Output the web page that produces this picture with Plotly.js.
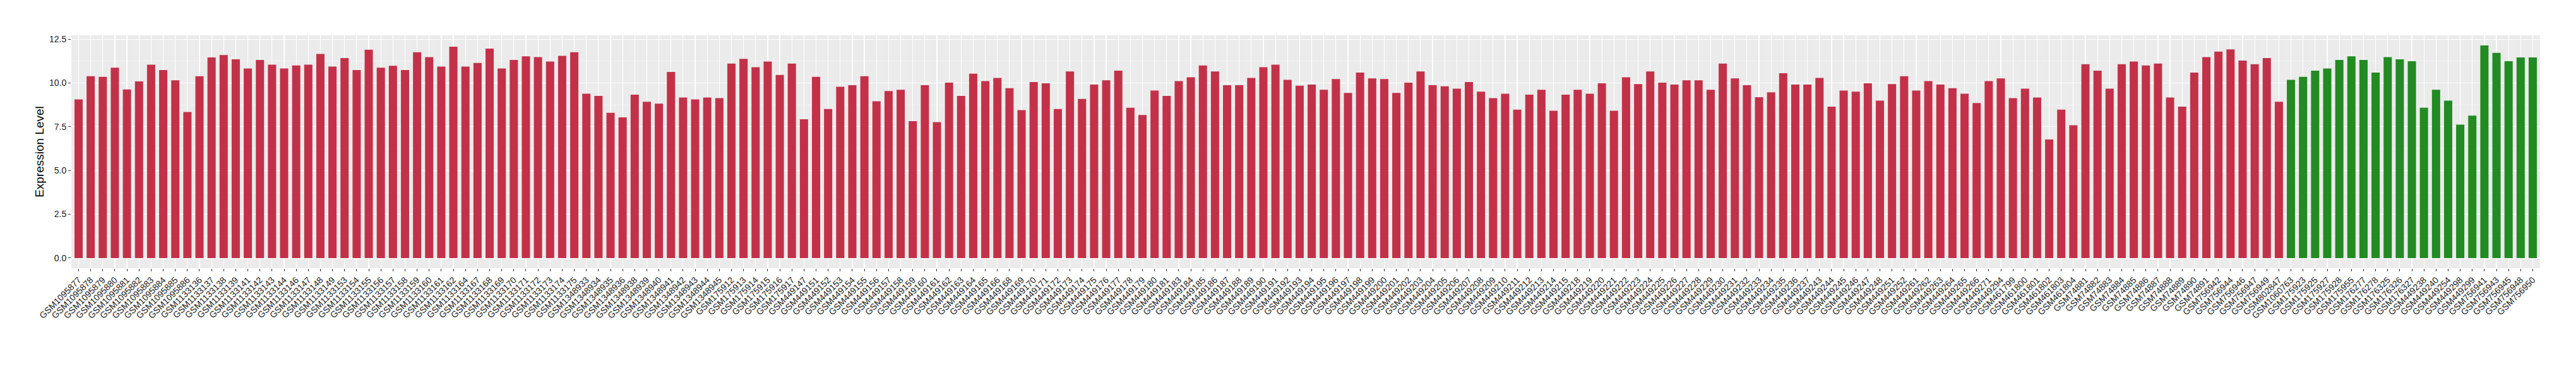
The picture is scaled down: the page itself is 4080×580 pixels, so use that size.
<!DOCTYPE html>
<html>
<head>
<meta charset="utf-8">
<script src="https://cdn.plot.ly/plotly-3.0.1.min.js"></script>
<style>
html,body{margin:0;padding:0;background:#fff;}
#chart{width:4080px;height:580px;}
</style>
</head>
<body>
<div id="chart"></div>
<script>
// Samples in the first group (red bars), in axis order
const redSamples = [
 "GSM1095877","GSM1095878","GSM1095879","GSM1095880","GSM1095881","GSM1095882","GSM1095883","GSM1095884","GSM1095885","GSM1095886",
 "GSM1133136","GSM1133137","GSM1133138","GSM1133139","GSM1133141","GSM1133142","GSM1133143","GSM1133144","GSM1133146","GSM1133147",
 "GSM1133148","GSM1133149","GSM1133153","GSM1133154","GSM1133155","GSM1133156","GSM1133157","GSM1133158","GSM1133159","GSM1133160",
 "GSM1133161","GSM1133162","GSM1133164","GSM1133167","GSM1133168","GSM1133169","GSM1133170","GSM1133171","GSM1133172","GSM1133173",
 "GSM1133174","GSM1133175","GSM1348933","GSM1348934","GSM1348935","GSM1348936","GSM1348938","GSM1348939","GSM1348940","GSM1348941",
 "GSM1348942","GSM1348943","GSM1348944","GSM1348945","GSM175912","GSM175913","GSM175914","GSM175915","GSM175916","GSM175917",
 "GSM449147","GSM449151","GSM449152","GSM449153","GSM449154","GSM449155","GSM449156","GSM449157","GSM449158","GSM449159",
 "GSM449160","GSM449161","GSM449162","GSM449163","GSM449164","GSM449165","GSM449166","GSM449168","GSM449169","GSM449170",
 "GSM449171","GSM449172","GSM449173","GSM449174","GSM449175","GSM449176","GSM449177","GSM449178","GSM449179","GSM449180",
 "GSM449181","GSM449183","GSM449184","GSM449185","GSM449186","GSM449187","GSM449188","GSM449189","GSM449190","GSM449191",
 "GSM449192","GSM449193","GSM449194","GSM449195","GSM449196","GSM449197","GSM449198","GSM449199","GSM449200","GSM449201",
 "GSM449202","GSM449203","GSM449204","GSM449205","GSM449206","GSM449207","GSM449208","GSM449209","GSM449210","GSM449211",
 "GSM449212","GSM449213","GSM449214","GSM449215","GSM449218","GSM449219","GSM449220","GSM449221","GSM449222","GSM449223",
 "GSM449224","GSM449225","GSM449226","GSM449227","GSM449228","GSM449229","GSM449230","GSM449231","GSM449232","GSM449233",
 "GSM449234","GSM449235","GSM449236","GSM449237","GSM449243","GSM449244","GSM449245","GSM449246","GSM449247","GSM449248",
 "GSM449251","GSM449252","GSM449261","GSM449262","GSM449263","GSM449264","GSM449265","GSM449266","GSM449271","GSM449294",
 "GSM461799","GSM461800","GSM461801","GSM461802","GSM461803","GSM461804","GSM74881","GSM74882","GSM74883","GSM74884",
 "GSM74885","GSM74886","GSM74887","GSM74888","GSM74889","GSM74890","GSM74891","GSM756942","GSM756944","GSM756946",
 "GSM756947","GSM756949","GSM802847"
];
const redValues = [
 9.06,10.39,10.35,10.87,9.63,10.09,11.04,10.74,10.15,8.34,
 10.39,11.46,11.59,11.35,10.83,11.31,11.04,10.83,11.00,11.04,
 11.66,10.94,11.42,10.74,11.90,10.87,10.98,10.74,11.76,11.48,
 10.94,12.07,10.94,11.14,11.96,10.83,11.31,11.52,11.48,11.22,
 11.55,11.76,9.39,9.26,8.30,8.03,9.33,8.93,8.82,10.63,
 9.17,9.06,9.17,9.13,11.11,11.38,10.90,11.22,10.46,11.11,
 7.93,10.35,8.51,9.78,9.87,10.39,8.95,9.54,9.61,7.82,
 9.87,7.76,10.02,9.26,10.53,10.11,10.29,9.70,8.45,10.05,
 9.98,8.51,10.66,9.09,9.91,10.15,10.70,8.58,8.17,9.57,
 9.26,10.11,10.32,11.00,10.66,9.87,9.87,10.29,10.90,11.04,
 10.18,9.85,9.91,9.61,10.22,9.43,10.59,10.26,10.22,9.43,
 10.02,10.66,9.87,9.81,9.67,10.05,9.50,9.13,9.39,8.48,
 9.33,9.61,8.41,9.33,9.61,9.39,9.98,8.41,10.32,9.94,
 10.66,10.02,9.91,10.15,10.15,9.61,11.11,10.26,9.87,9.19,
 9.47,10.56,9.91,9.91,10.29,8.65,9.57,9.50,9.98,8.99,
 9.94,10.39,9.57,10.11,9.91,9.70,9.39,8.85,10.11,10.26,
 9.13,9.67,9.17,6.77,8.48,7.58,11.07,10.70,9.67,11.07,
 11.22,11.00,11.11,9.17,8.65,10.59,11.48,11.79,11.92,11.28,
 11.07,11.42,8.93
];
// Samples in the second group (green bars)
const greenSamples = [
 "GSM1060763","GSM175923","GSM175925","GSM175927","GSM175928","GSM175955","GSM176277","GSM176278","GSM176325","GSM176326",
 "GSM176327","GSM449238","GSM449240","GSM449254","GSM449298","GSM449299","GSM756941","GSM756943","GSM756945","GSM756948",
 "GSM756950"
];
const greenValues = [
 10.18,10.35,10.70,10.83,11.31,11.52,11.31,10.59,11.48,11.35,
 11.24,8.58,9.61,8.99,7.62,8.13,12.14,11.72,11.24,11.46,
 11.46
];
const yTicks = [0, 2.5, 5, 7.5, 10, 12.5];
const yTickText = ["0.0", "2.5", "5.0", "7.5", "10.0", "12.5"];

const allSamples = redSamples.concat(greenSamples);

const traces = [
  {type: "bar", x: redSamples, y: redValues, width: 0.68,
   marker: {color: "#C33149", line: {width: 0}}, hoverinfo: "x+y", showlegend: false},
  {type: "bar", x: greenSamples, y: greenValues, width: 0.68,
   marker: {color: "#228B22", line: {width: 0}}, hoverinfo: "x+y", showlegend: false}
];

const layout = {
  width: 4080, height: 580,
  margin: {l: 113, r: 57, t: 56, b: 155},
  paper_bgcolor: "#FFFFFF",
  plot_bgcolor: "#EBEBEB",
  barmode: "overlay",
  font: {family: "Liberation Sans, Arial, Helvetica, sans-serif", color: "#000"},
  showlegend: false,
  xaxis: {
    type: "category",
    categoryorder: "array", categoryarray: allSamples,
    range: [-0.6, allSamples.length - 0.4],
    tickmode: "array", tickvals: allSamples, ticktext: allSamples,
    tickangle: -45,
    tickfont: {size: 14, color: "#1A1A1A"},
    ticks: "outside", ticklen: 4, tickwidth: 1, tickcolor: "#333333",
    showgrid: true, gridcolor: "#FFFFFF", gridwidth: 1.2,
    zeroline: false, showline: false, automargin: false, fixedrange: true
  },
  yaxis: {
    range: [-0.58, 12.72],
    tickmode: "array", tickvals: yTicks, ticktext: yTickText,
    tickfont: {size: 14, color: "#1A1A1A"},
    ticks: "outside", ticklen: 4, tickwidth: 1, tickcolor: "#333333",
    showgrid: true, gridcolor: "#FFFFFF", gridwidth: 1.2,
    minor: {dtick: 1.25, tick0: 0, showgrid: true, gridcolor: "#F5F5F5", gridwidth: 0.7, ticks: ""},
    zeroline: false, showline: false, automargin: false, fixedrange: true,
    title: {text: "Expression Level", font: {size: 19, color: "#000"}, standoff: 3}
  }
};

Plotly.newPlot("chart", traces, layout, {displayModeBar: false, staticPlot: true});
</script>
</body>
</html>
